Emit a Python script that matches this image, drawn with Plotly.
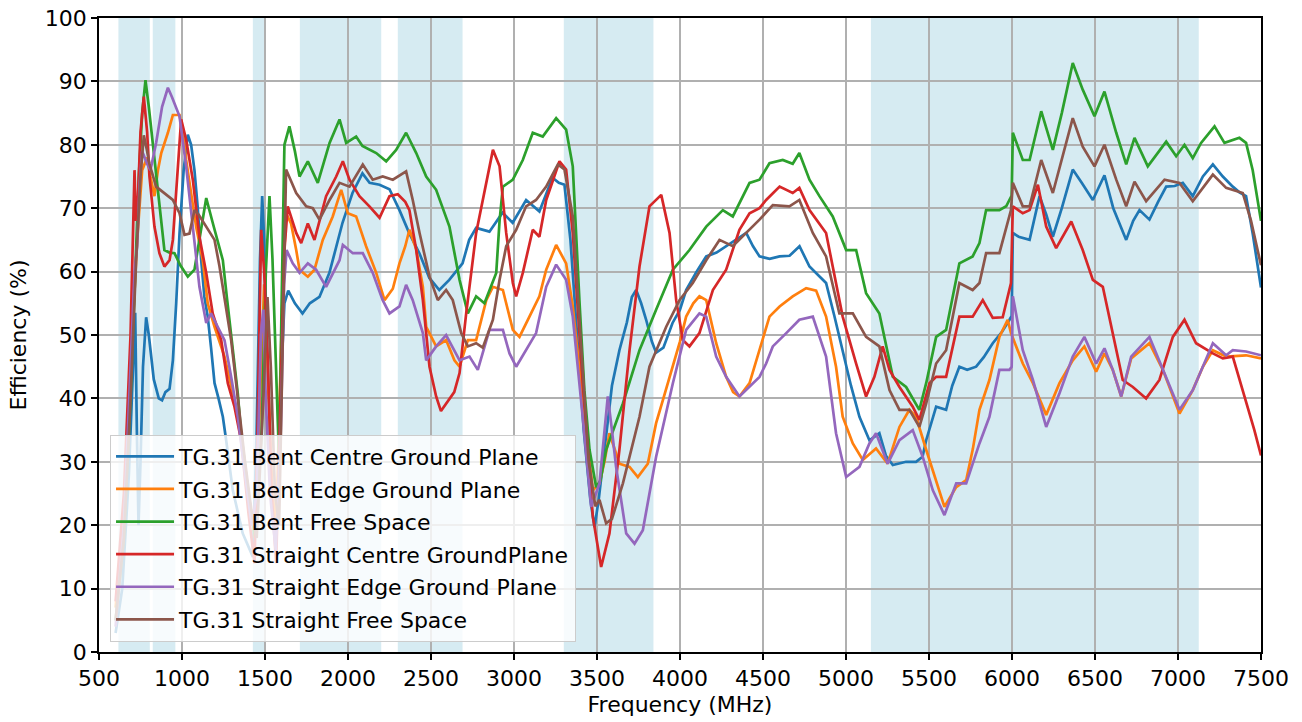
import plotly.graph_objects as go

# ---------------- data ----------------
bent_centre_f = [600, 640, 680, 705, 718, 728, 738, 750, 765, 784, 800, 830, 860, 880, 900, 925, 945, 965, 985, 1010, 1035, 1055, 1075, 1095, 1115, 1135, 1155, 1175, 1196, 1220, 1246, 1266, 1306, 1366, 1427, 1450, 1470, 1483, 1495, 1515, 1535, 1560, 1580, 1600, 1617, 1640, 1680, 1726, 1770, 1828, 1888, 1930, 1967, 2027, 2087, 2130, 2190, 2250, 2310, 2370, 2430, 2490, 2550, 2610, 2690, 2730, 2772, 2852, 2931, 2992, 3073, 3153, 3232, 3270, 3304, 3340, 3380, 3420, 3460, 3485, 3510, 3550, 3590, 3635, 3680, 3710, 3736, 3766, 3796, 3830, 3856, 3900, 3955, 4000, 4037, 4100, 4158, 4220, 4278, 4340, 4399, 4440, 4479, 4540, 4600, 4660, 4700, 4720, 4780, 4830, 4880, 4930, 4980, 5030, 5081, 5141, 5201, 5240, 5282, 5362, 5422, 5461, 5483, 5543, 5603, 5640, 5683, 5730, 5784, 5830, 5884, 5940, 5985, 5998, 6005, 6040, 6106, 6166, 6206, 6246, 6300, 6366, 6420, 6487, 6557, 6610, 6688, 6730, 6768, 6828, 6880, 6929, 6980, 7029, 7089, 7150, 7210, 7270, 7330, 7370, 7410, 7450, 7500]
bent_centre_eff = [3, 10, 28, 45, 53.5, 35, 20, 30, 45, 52.8, 50, 43, 40, 39.7, 41, 41.5, 46, 55, 66, 76, 81.6, 80, 76, 70, 62, 56, 52.9, 48, 42.4, 40, 37.1, 33.4, 25.5, 18.7, 15, 35, 62, 71.9, 65, 46, 30, 18, 25, 45, 55, 57, 55, 53.4, 55, 56, 59.8, 64, 67.7, 72.4, 75.5, 74, 73.7, 73, 69.7, 66, 62.9, 59, 57.1, 58.7, 61.3, 65, 66.9, 66.3, 69.3, 67.7, 71.3, 69.5, 74.8, 74, 73.7, 65, 50, 35, 24, 19.7, 24, 33, 42, 47.6, 52, 56, 57.1, 55, 52.4, 49, 47.2, 48, 51.9, 54, 57.1, 60, 62.4, 63, 64, 65, 66.1, 64, 62.4, 62, 62.4, 62.5, 63.4, 64, 60.8, 59.5, 58.2, 53, 47.6, 42, 37.1, 33.4, 34.5, 31, 29.5, 30, 30, 30.8, 33.4, 38.7, 38.2, 42, 45, 44.5, 45, 46.5, 48.7, 50.5, 52.4, 53, 66.1, 65.5, 65, 71.9, 69, 65.5, 70, 76.1, 74, 71.3, 75.2, 70, 65, 68, 69.7, 68.2, 71, 73.4, 73.5, 74, 71.9, 75, 76.9, 75, 73.4, 72.5, 71.9, 66, 57.5]

bent_edge_f = [600, 650, 700, 730, 760, 790, 810, 834, 855, 875, 915, 945, 985, 1005, 1025, 1055, 1085, 1125, 1155, 1196, 1256, 1316, 1356, 1400, 1440, 1470, 1495, 1515, 1540, 1565, 1590, 1610, 1627, 1657, 1688, 1708, 1758, 1798, 1848, 1908, 1959, 1999, 2049, 2109, 2170, 2220, 2270, 2310, 2345, 2370, 2411, 2451, 2471, 2531, 2591, 2641, 2672, 2722, 2772, 2833, 2873, 2933, 2993, 3033, 3093, 3153, 3194, 3254, 3314, 3354, 3414, 3475, 3515, 3545, 3575, 3605, 3635, 3696, 3746, 3806, 3856, 3900, 3957, 4000, 4037, 4080, 4117, 4158, 4218, 4278, 4320, 4358, 4419, 4479, 4539, 4600, 4679, 4760, 4820, 4880, 4940, 4980, 5041, 5101, 5181, 5251, 5322, 5382, 5422, 5483, 5543, 5593, 5664, 5724, 5764, 5804, 5864, 5924, 5974, 5994, 6065, 6126, 6206, 6286, 6366, 6436, 6507, 6557, 6607, 6658, 6718, 6828, 6909, 7009, 7089, 7150, 7210, 7290, 7410, 7500]
bent_edge_eff = [7, 22, 50, 65, 76, 78, 75, 71.9, 76, 78.7, 81.9, 84.7, 84.7, 82, 77.6, 72, 67.1, 61.8, 55, 51.3, 46.6, 39.7, 34.5, 25, 18, 40, 58, 45, 28, 18, 40, 60, 69.2, 67.6, 63.4, 60.3, 59.2, 60.3, 65, 68.7, 72.9, 69.2, 68.7, 64, 59.8, 55.5, 57.3, 61.3, 64, 66.6, 63.5, 57.6, 51.3, 48.2, 49.2, 46, 45, 49.2, 49.2, 55.5, 57.6, 57.1, 50.8, 49.7, 52.9, 56.1, 60.3, 64.2, 61.3, 54.5, 39.7, 25.5, 26.6, 30, 34.5, 32, 29.7, 29.2, 27.6, 29.7, 36.1, 40, 45, 49, 52.9, 55, 56.1, 55.5, 48.7, 43.4, 41, 40.3, 42.4, 47.6, 52.9, 54.5, 56.1, 57.4, 57, 52.9, 45, 37.1, 32.9, 30.3, 32.1, 29.7, 35.5, 38.2, 37.1, 31.9, 27.1, 22.9, 26, 27.1, 32, 38.2, 42.9, 49.7, 52.4, 50.3, 45.5, 42.4, 37.4, 42.4, 46, 48.2, 44.2, 47.1, 44.5, 40.3, 46.3, 48.7, 44.5, 37.6, 41.3, 45, 47.6, 46.6, 46.8, 46.3]

bent_free_f = [600, 650, 690, 714, 740, 760, 780, 800, 824, 845, 864, 875, 894, 925, 955, 990, 1035, 1075, 1110, 1146, 1185, 1215, 1246, 1270, 1296, 1336, 1356, 1400, 1440, 1480, 1505, 1527, 1545, 1567, 1585, 1600, 1617, 1647, 1680, 1708, 1758, 1818, 1889, 1949, 1989, 2049, 2087, 2170, 2230, 2290, 2350, 2411, 2471, 2531, 2611, 2672, 2722, 2772, 2822, 2893, 2913, 2933, 2993, 3053, 3113, 3173, 3254, 3314, 3354, 3394, 3424, 3455, 3495, 3520, 3555, 3656, 3756, 3856, 3957, 4057, 4158, 4258, 4318, 4419, 4479, 4539, 4619, 4679, 4719, 4780, 4840, 4920, 5001, 5061, 5121, 5201, 5241, 5282, 5362, 5442, 5483, 5543, 5603, 5683, 5763, 5804, 5844, 5924, 5965, 5998, 6005, 6065, 6106, 6176, 6246, 6300, 6366, 6426, 6497, 6557, 6628, 6688, 6738, 6818, 6929, 6989, 7039, 7089, 7139, 7220, 7280, 7370, 7410, 7450, 7500]
bent_free_eff = [5, 18, 40, 56.6, 75, 85, 90.2, 86, 80.3, 75, 71.3, 68.7, 63.4, 63, 62.9, 61, 59.2, 60.3, 66, 71.6, 67.7, 65, 61.8, 56, 50.3, 40.8, 34.5, 25, 18, 35, 60, 71.9, 62, 46, 30, 55, 80, 82.9, 79, 75, 77.4, 74, 80.3, 84, 80.3, 81.3, 79.8, 78.7, 77.4, 79.2, 81.9, 78.7, 75, 72.9, 67.1, 58.7, 53.4, 56.1, 55, 59.8, 68, 73.4, 74.5, 77.6, 81.9, 81.3, 84.2, 82.4, 76.6, 55.5, 41.3, 31.9, 26, 27, 31.9, 39.2, 47.6, 54, 60.3, 63.4, 67.1, 69.7, 68.7, 74, 74.5, 77.1, 77.6, 77, 78.7, 74.5, 71.9, 68.7, 63.4, 63.4, 56.6, 53.4, 48.7, 43.4, 41.8, 38.2, 42.4, 49.7, 50.8, 61.3, 62.4, 64.5, 69.7, 69.7, 70.3, 72, 81.9, 77.6, 77.6, 85.3, 79.2, 85, 92.9, 88.7, 84.5, 88.4, 81.9, 76.9, 81.1, 76.6, 80.5, 78.2, 80, 77.9, 80.3, 82.9, 80.3, 81.1, 80.3, 76, 68]

straight_centre_f = [600, 650, 690, 705, 714, 722, 735, 750, 770, 790, 804, 834, 864, 894, 925, 945, 965, 995, 1025, 1065, 1105, 1146, 1185, 1236, 1276, 1316, 1356, 1400, 1437, 1455, 1477, 1495, 1517, 1540, 1567, 1590, 1617, 1637, 1688, 1718, 1758, 1798, 1868, 1929, 1969, 2009, 2069, 2129, 2190, 2250, 2300, 2345, 2370, 2411, 2451, 2491, 2531, 2560, 2600, 2640, 2672, 2712, 2772, 2833, 2873, 2913, 2953, 2993, 3013, 3053, 3113, 3153, 3194, 3274, 3314, 3354, 3414, 3475, 3525, 3575, 3635, 3696, 3756, 3816, 3887, 3937, 3977, 4017, 4057, 4117, 4198, 4278, 4358, 4419, 4479, 4519, 4600, 4679, 4719, 4780, 4880, 4920, 4980, 5061, 5121, 5171, 5221, 5262, 5322, 5402, 5442, 5503, 5543, 5603, 5683, 5763, 5824, 5884, 5944, 5994, 6005, 6065, 6106, 6156, 6206, 6266, 6357, 6426, 6487, 6547, 6607, 6667, 6728, 6808, 6888, 6969, 7039, 7109, 7210, 7270, 7330, 7410, 7460, 7500]
straight_centre_eff = [8, 25, 50, 70, 76, 68, 72, 82, 87.6, 82, 75, 67.1, 62.9, 60.8, 61.8, 65, 72.4, 84, 80.8, 74.5, 65.5, 59.8, 53.4, 49.2, 42.4, 38.7, 33.4, 22, 14, 35, 66.6, 60, 46, 25, 14, 35, 63.4, 70.3, 66.1, 64.5, 67.6, 65, 71.9, 75, 77.4, 74.5, 71.9, 70.3, 68.5, 71.9, 72.2, 71, 69.7, 63.4, 55.5, 45, 40.3, 38, 39.5, 41, 44, 53.4, 66.1, 74, 79.2, 76.6, 66.1, 58.2, 56.1, 59.8, 66.6, 65.5, 71.3, 77.4, 76.1, 66.1, 42.4, 21.3, 13.4, 18.7, 31.9, 47.6, 60.8, 70.3, 72.1, 66.1, 55.5, 49.2, 48.2, 50.3, 57.1, 60.3, 66.6, 69.2, 70, 71.3, 73.4, 72.4, 73.2, 69.7, 66.1, 60.8, 52.9, 45.5, 40.3, 43.4, 48.2, 44.5, 41.8, 38.7, 36.6, 42.4, 43.4, 43.4, 52.9, 52.9, 55.5, 52.7, 52.8, 58.2, 70.3, 69.2, 69.7, 73.7, 67.1, 63.7, 67.9, 63.4, 58.7, 57.6, 50.3, 42.9, 41.8, 40, 42.9, 49.7, 52.4, 48.7, 47.1, 46.3, 46.6, 39.7, 35, 31]

straight_edge_f = [600, 650, 690, 714, 730, 745, 760, 790, 810, 844, 880, 915, 940, 965, 985, 1025, 1065, 1105, 1146, 1175, 1215, 1256, 1296, 1336, 1380, 1420, 1450, 1475, 1490, 1505, 1530, 1565, 1595, 1615, 1630, 1667, 1708, 1758, 1808, 1868, 1949, 1969, 2029, 2089, 2149, 2209, 2250, 2310, 2350, 2390, 2451, 2471, 2531, 2591, 2672, 2732, 2782, 2852, 2933, 2973, 3013, 3073, 3133, 3194, 3254, 3314, 3354, 3414, 3465, 3515, 3545, 3565, 3590, 3615, 3676, 3726, 3776, 3856, 3957, 4037, 4117, 4158, 4218, 4278, 4358, 4439, 4479, 4519, 4559, 4640, 4719, 4800, 4880, 4940, 5001, 5081, 5141, 5181, 5251, 5322, 5402, 5462, 5523, 5593, 5664, 5724, 5804, 5864, 5924, 5985, 5998, 6005, 6065, 6126, 6206, 6286, 6366, 6436, 6507, 6557, 6607, 6658, 6718, 6828, 6909, 7009, 7089, 7210, 7290, 7330, 7410, 7500]
straight_edge_eff = [4, 20, 45, 60, 64, 74, 79, 77, 76, 80.3, 86, 89, 87.5, 85.8, 84.5, 76.6, 67.1, 57.6, 51.9, 53.4, 51.3, 49.2, 43.4, 37.1, 28, 20, 25, 50, 54, 40, 25, 16, 35, 58, 63.4, 61.3, 59.8, 61.3, 60.3, 57.6, 61.8, 64.2, 62.9, 62.9, 59.8, 55.5, 53.4, 54.5, 57.9, 55.5, 50.3, 46, 48.2, 50, 46, 46.6, 44.5, 50.8, 50.8, 47.1, 45, 47.6, 50.3, 57.6, 61.1, 58.7, 52.9, 37.1, 22.9, 26.6, 35, 40.3, 35, 29.2, 18.7, 17.1, 19.2, 30.8, 42.4, 50.8, 53.4, 52.9, 46.6, 43.4, 40.3, 42.4, 43.4, 45.5, 48.2, 50.3, 52.4, 52.9, 46.6, 34.5, 27.6, 29.2, 32.9, 34.5, 29.7, 33.4, 35, 30.8, 25.5, 21.6, 26.6, 26.6, 32.9, 37.1, 44.5, 44.5, 45, 56.1, 47.6, 42.9, 35.5, 40.8, 46.6, 49.7, 45.5, 47.9, 44.5, 40.3, 46.6, 49.7, 44.5, 38.2, 41.3, 48.7, 46.8, 47.6, 47.4, 46.8]

straight_free_f = [600, 650, 690, 724, 750, 770, 790, 804, 844, 894, 945, 985, 1015, 1045, 1075, 1100, 1135, 1196, 1226, 1256, 1296, 1326, 1356, 1380, 1420, 1450, 1490, 1515, 1535, 1560, 1585, 1605, 1627, 1688, 1748, 1788, 1828, 1889, 1949, 2009, 2089, 2149, 2209, 2270, 2350, 2390, 2431, 2491, 2541, 2591, 2631, 2682, 2722, 2772, 2812, 2873, 2913, 2953, 3013, 3073, 3133, 3194, 3264, 3304, 3354, 3400, 3450, 3490, 3515, 3555, 3590, 3656, 3756, 3816, 3917, 3997, 4077, 4158, 4238, 4318, 4399, 4479, 4559, 4659, 4719, 4800, 4880, 4960, 5041, 5121, 5201, 5262, 5322, 5382, 5442, 5483, 5543, 5603, 5683, 5763, 5804, 5844, 5924, 5994, 6005, 6065, 6106, 6176, 6246, 6366, 6426, 6497, 6557, 6628, 6688, 6738, 6808, 6919, 7009, 7089, 7210, 7290, 7390, 7440, 7500]
straight_free_eff = [5, 18, 40, 62, 75, 81.5, 79, 77, 73.4, 72.4, 71.3, 69.2, 65.8, 66, 69.7, 69, 67.6, 65, 60.8, 55.5, 49.2, 42.4, 35.5, 30, 22, 18, 40, 56, 45, 25, 20, 45, 76.1, 72.4, 70.3, 70, 68.2, 71.3, 74, 73.4, 76.9, 74.5, 75, 74.5, 75.8, 71.3, 66.1, 59.2, 55.5, 57.1, 55.5, 50.3, 48.2, 48.7, 48, 52.4, 58.7, 64, 66.6, 70.3, 71.3, 73.4, 76.9, 76.1, 68.7, 50, 30, 23, 24, 20.3, 21, 26.6, 37.1, 45, 51.3, 55.5, 58.2, 61.8, 65, 64, 66.1, 68.2, 70.5, 70.3, 71.3, 66.1, 62.4, 53.4, 53.4, 49.7, 48.2, 41.3, 38.2, 38.2, 35.5, 39.2, 45.5, 47.6, 58.2, 57.1, 58.2, 62.9, 62.9, 69.7, 74, 70.3, 70.3, 77.6, 72.4, 84.2, 79.7, 76.6, 80, 74.5, 70.3, 74.2, 71.1, 74.5, 74, 71.1, 75.3, 73.2, 72.4, 68, 61]

series_names = [
    "TG.31 Bent Centre Ground Plane",
    "TG.31 Bent Edge Ground Plane",
    "TG.31 Bent Free Space",
    "TG.31 Straight Centre GroundPlane",
    "TG.31 Straight Edge Ground Plane",
    "TG.31 Straight Free Space",
]

# frequency bands highlighted (MHz)
band_start = [617, 824, 1427, 1710, 2300, 3300, 5150]
band_end = [806, 960, 1505, 2200, 2690, 3840, 7125]

x_ticks = list(range(500, 7501, 500))
y_ticks = list(range(0, 101, 10))

# ---------------- figure ----------------
colors = ["#1f77b4", "#ff7f0e", "#2ca02c", "#d62728", "#9467bd", "#8c564b"]
xs = [bent_centre_f, bent_edge_f, bent_free_f, straight_centre_f, straight_edge_f, straight_free_f]
ys = [bent_centre_eff, bent_edge_eff, bent_free_eff, straight_centre_eff, straight_edge_eff, straight_free_eff]

FONT = "DejaVu Sans"
FS = 22
fig = go.Figure()
for i, (name, fx, fy, c) in enumerate(zip(series_names, xs, ys, colors)):
    fig.add_trace(go.Scatter(x=fx, y=fy, mode="lines", name=name, legendgroup=f"g{i}",
                             line=dict(color=c, width=2.7)))

for s, e in zip(band_start, band_end):
    fig.add_shape(type="rect", xref="x", yref="paper", x0=s, x1=e, y0=0, y1=1,
                  fillcolor="rgba(173,216,230,0.5)", line=dict(width=0), layer="below")

axis_common = dict(
    showline=True, linecolor="black", linewidth=1.5, mirror=True,
    ticks="outside", ticklen=6, tickwidth=1.5, tickcolor="black",
    showgrid=True, gridcolor="#b0b0b0", gridwidth=1.5,
    zeroline=False, automargin=False, ticklabeloverflow="allow",
    tickfont=dict(family=FONT, size=FS, color="black"),
)
fig.update_xaxes(range=[500, 7500], tickvals=x_ticks,
                 title=dict(text="Frequency (MHz)", font=dict(family=FONT, size=FS, color="black"), standoff=6),
                 **axis_common)
fig.update_yaxes(range=[0, 100], tickvals=y_ticks,
                 title=dict(text="Efficiency (%)", font=dict(family=FONT, size=FS, color="black"), standoff=12),
                 **axis_common)

fig.update_layout(
    width=1302, height=722,
    margin=dict(l=99, r=41, t=18, b=70),
    paper_bgcolor="white", plot_bgcolor="white",
    font=dict(family=FONT, color="black"),
    legend=dict(x=0.0095, y=0.0165, xanchor="left", yanchor="bottom",
                bgcolor="rgba(255,255,255,0.8)", bordercolor="#cccccc", borderwidth=1,
                font=dict(family=FONT, size=FS, color="black"), itemwidth=58,
                tracegroupgap=1),
    showlegend=True,
)

fig.write_html("out.html", config={"displayModeBar": False},
               post_script="document.body.style.margin='0';document.body.style.overflow='hidden';")
